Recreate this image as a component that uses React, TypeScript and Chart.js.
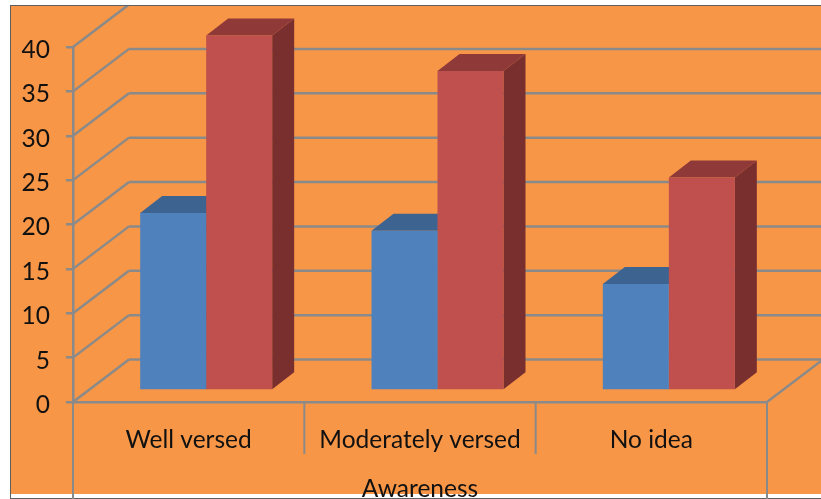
import React, { useEffect, useRef } from "react";
import { Chart, registerables, Plugin } from "chart.js";

Chart.register(...registerables);

const categories = ["Well versed", "Moderately versed", "No idea"];
const seriesOne = [20, 18, 12];
const seriesTwo = [40, 36, 24];
const axisTitle = "Awareness";

const WIDTH = 821;
const HEIGHT = 499;
const GRID = "#8a8a8a";
const ORANGE = "#f79646";
const INK = "#111111";
const FONT = 'Lato, "Open Sans", sans-serif';

// Oblique projection used for the walls and for the box faces.
const WALL = { dx: 56, dy: -42.5 };
const BOX_OFFSET = { dx: 17.5, dy: -11.5 };
const BOX_DEPTH = { dx: 22, dy: -17 };
const FACE_COLORS = [
  { top: "#3d6491", side: "#3a5f8a" },
  { top: "#8f3a38", side: "#7a2f2f" },
];

const line = (ctx: CanvasRenderingContext2D, x1: number, y1: number, x2: number, y2: number) => {
  ctx.beginPath();
  ctx.moveTo(x1, y1);
  ctx.lineTo(x2, y2);
  ctx.stroke();
};

const framePlugin: Plugin<"bar"> = {
  id: "frame",
  beforeDraw(chart) {
    const { ctx } = chart;
    ctx.save();
    ctx.fillStyle = "#ffffff";
    ctx.fillRect(0, 0, WIDTH, HEIGHT);
    ctx.fillStyle = ORANGE;
    ctx.fillRect(11, 6, WIDTH - 11, 488);
    ctx.fillStyle = "#5f5f5f";
    ctx.fillRect(10, 5, WIDTH - 10, 1);
    ctx.fillRect(10, 5, 1, HEIGHT - 5);
    ctx.fillRect(10, 498, WIDTH - 10, 1);
    ctx.restore();
  },
};

const perspectivePlugin: Plugin<"bar"> = {
  id: "perspective",
  beforeDatasetsDraw(chart) {
    const { ctx, chartArea, scales } = chart;
    const y = scales.y;
    const x = scales.x;

    // Back wall, side wall and floor lines.
    ctx.save();
    ctx.beginPath();
    ctx.rect(11, 6, WIDTH - 11, 488);
    ctx.clip();
    ctx.strokeStyle = GRID;
    ctx.lineWidth = 2.5;
    y.ticks.forEach((tick) => {
      const py = y.getPixelForValue(tick.value);
      line(ctx, chartArea.left, py, chartArea.left + WALL.dx, py + WALL.dy);
      line(ctx, chartArea.left + WALL.dx, py + WALL.dy, WIDTH, py + WALL.dy);
    });
    line(ctx, chartArea.right, chartArea.bottom, chartArea.right + WALL.dx, chartArea.bottom + WALL.dy);
    ctx.restore();

    // Axis drop lines and the separators between category labels.
    ctx.save();
    ctx.strokeStyle = GRID;
    ctx.lineWidth = 2;
    line(ctx, chartArea.left, chartArea.bottom, chartArea.left, HEIGHT);
    line(ctx, chartArea.right, chartArea.bottom, chartArea.right, HEIGHT);
    for (let i = 1; i < categories.length; i++) {
      const px = (x.getPixelForValue(i - 1) + x.getPixelForValue(i)) / 2;
      line(ctx, px, chartArea.bottom, px, chartArea.bottom + 52);
    }
    ctx.restore();

    // Every box sits a little way into the floor; the front faces follow the same shift.
    ctx.save();
    ctx.translate(BOX_OFFSET.dx, BOX_OFFSET.dy);
    chart.data.datasets.forEach((_, di) => {
      const colors = FACE_COLORS[di];
      chart.getDatasetMeta(di).data.forEach((el) => {
        const bar = el as unknown as { x: number; y: number; base: number; width: number };
        const l = bar.x - bar.width / 2;
        const r = bar.x + bar.width / 2;
        ctx.fillStyle = colors.side;
        ctx.beginPath();
        ctx.moveTo(r, bar.y);
        ctx.lineTo(r + BOX_DEPTH.dx, bar.y + BOX_DEPTH.dy);
        ctx.lineTo(r + BOX_DEPTH.dx, bar.base + BOX_DEPTH.dy);
        ctx.lineTo(r, bar.base);
        ctx.closePath();
        ctx.fill();
        ctx.fillStyle = colors.top;
        ctx.beginPath();
        ctx.moveTo(l, bar.y);
        ctx.lineTo(l + BOX_DEPTH.dx, bar.y + BOX_DEPTH.dy);
        ctx.lineTo(r + BOX_DEPTH.dx, bar.y + BOX_DEPTH.dy);
        ctx.lineTo(r, bar.y);
        ctx.closePath();
        ctx.fill();
      });
    });
    // Left open for the front faces; closed again in afterDatasetsDraw.
  },
  afterDatasetsDraw(chart) {
    chart.ctx.restore();
  },
};

export default function App() {
  const canvasRef = useRef<HTMLCanvasElement | null>(null);

  useEffect(() => {
    document.body.style.margin = "0";
    const chart = new Chart(canvasRef.current!, {
      type: "bar",
      data: {
        labels: categories,
        datasets: [
          { label: "Series 1", data: seriesOne, backgroundColor: "#4f81bd", clip: false },
          { label: "Series 2", data: seriesTwo, backgroundColor: "#c0504d", clip: false },
        ],
      },
      plugins: [framePlugin, perspectivePlugin],
      options: {
        responsive: false,
        animation: false,
        layout: { padding: { left: 0, top: 47, right: 54, bottom: 0 } },
        datasets: { bar: { categoryPercentage: 0.5706, barPercentage: 1 } },
        plugins: { legend: { display: false }, tooltip: { enabled: false } },
        scales: {
          x: {
            grid: { display: false },
            border: { display: true, color: GRID, width: 2.5 },
            ticks: { color: INK, font: { family: FONT, size: 24.5 }, padding: 15, maxRotation: 0, autoSkip: false },
            title: {
              display: true,
              text: axisTitle,
              color: INK,
              font: { family: FONT, size: 24.5 },
              padding: { top: 0, bottom: -5 },
            },
            afterFit(scale) {
              scale.height = 97;
            },
          },
          y: {
            min: 0,
            max: 40,
            grid: { drawOnChartArea: false, drawTicks: true, tickLength: 7, color: GRID, lineWidth: 2.5 },
            border: { display: true, color: GRID, width: 2.5 },
            ticks: { stepSize: 5, color: INK, font: { family: FONT, size: 24.5 }, padding: 16, labelOffset: 3 },
            afterFit(scale) {
              scale.width = 73;
            },
          },
        },
      },
    });
    return () => chart.destroy();
  }, []);

  return (
    <canvas
      ref={canvasRef}
      width={WIDTH}
      height={HEIGHT}
      style={{ display: "block", width: WIDTH, height: HEIGHT }}
    />
  );
}
